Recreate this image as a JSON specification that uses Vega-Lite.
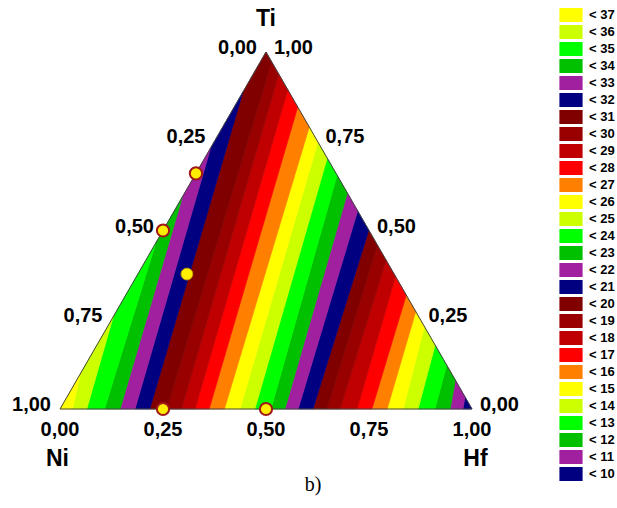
{
  "$schema": "https://vega.github.io/schema/vega-lite/v6.json",
  "width": 412,
  "height": 357,
  "autosize": {"type": "none"},
  "padding": {"left": 60, "top": 52, "right": 145, "bottom": 99},
  "background": "white",
  "config": {"view": {"stroke": null}, "font": "Liberation Sans"},
  "datasets": {
    "bands": [
      {"b": "< 10", "i": 0, "x": 0.978, "y": 0}, {"b": "< 10", "i": 1, "x": 1, "y": 0}, {"b": "< 10", "i": 2, "x": 0.983, "y": 0.034},
      {"b": "< 11", "i": 0, "x": 0.978, "y": 0}, {"b": "< 11", "i": 1, "x": 0.983, "y": 0.034}, {"b": "< 11", "i": 2, "x": 0.9595, "y": 0.081}, {"b": "< 11", "i": 3, "x": 0.947, "y": 0},
      {"b": "< 12", "i": 0, "x": 0.947, "y": 0}, {"b": "< 12", "i": 1, "x": 0.9595, "y": 0.081}, {"b": "< 12", "i": 2, "x": 0.9385, "y": 0.123}, {"b": "< 12", "i": 3, "x": 0.910, "y": 0},
      {"b": "< 13", "i": 0, "x": 0.910, "y": 0}, {"b": "< 13", "i": 1, "x": 0.9385, "y": 0.123}, {"b": "< 13", "i": 2, "x": 0.9105, "y": 0.179}, {"b": "< 13", "i": 3, "x": 0.869, "y": 0},
      {"b": "< 14", "i": 0, "x": 0.869, "y": 0}, {"b": "< 14", "i": 1, "x": 0.9105, "y": 0.179}, {"b": "< 14", "i": 2, "x": 0.8845, "y": 0.231}, {"b": "< 14", "i": 3, "x": 0.833, "y": 0},
      {"b": "< 15", "i": 0, "x": 0.833, "y": 0}, {"b": "< 15", "i": 1, "x": 0.8845, "y": 0.231}, {"b": "< 15", "i": 2, "x": 0.8635, "y": 0.273}, {"b": "< 15", "i": 3, "x": 0.794, "y": 0},
      {"b": "< 16", "i": 0, "x": 0.794, "y": 0}, {"b": "< 16", "i": 1, "x": 0.8635, "y": 0.273}, {"b": "< 16", "i": 2, "x": 0.8405, "y": 0.319}, {"b": "< 16", "i": 3, "x": 0.757, "y": 0},
      {"b": "< 17", "i": 0, "x": 0.757, "y": 0}, {"b": "< 17", "i": 1, "x": 0.8405, "y": 0.319}, {"b": "< 17", "i": 2, "x": 0.8145, "y": 0.371}, {"b": "< 17", "i": 3, "x": 0.721, "y": 0},
      {"b": "< 18", "i": 0, "x": 0.721, "y": 0}, {"b": "< 18", "i": 1, "x": 0.8145, "y": 0.371}, {"b": "< 18", "i": 2, "x": 0.7915, "y": 0.417}, {"b": "< 18", "i": 3, "x": 0.680, "y": 0},
      {"b": "< 19", "i": 0, "x": 0.680, "y": 0}, {"b": "< 19", "i": 1, "x": 0.7915, "y": 0.417}, {"b": "< 19", "i": 2, "x": 0.7705, "y": 0.459}, {"b": "< 19", "i": 3, "x": 0.648, "y": 0},
      {"b": "< 20", "i": 0, "x": 0.648, "y": 0}, {"b": "< 20", "i": 1, "x": 0.7705, "y": 0.459}, {"b": "< 20", "i": 2, "x": 0.7495, "y": 0.501}, {"b": "< 20", "i": 3, "x": 0.614, "y": 0},
      {"b": "< 21", "i": 0, "x": 0.614, "y": 0}, {"b": "< 21", "i": 1, "x": 0.7495, "y": 0.501}, {"b": "< 21", "i": 2, "x": 0.7225, "y": 0.555}, {"b": "< 21", "i": 3, "x": 0.578, "y": 0},
      {"b": "< 22", "i": 0, "x": 0.578, "y": 0}, {"b": "< 22", "i": 1, "x": 0.7225, "y": 0.555}, {"b": "< 22", "i": 2, "x": 0.6975, "y": 0.605}, {"b": "< 22", "i": 3, "x": 0.546, "y": 0},
      {"b": "< 23", "i": 0, "x": 0.546, "y": 0}, {"b": "< 23", "i": 1, "x": 0.6975, "y": 0.605}, {"b": "< 23", "i": 2, "x": 0.6725, "y": 0.655}, {"b": "< 23", "i": 3, "x": 0.512, "y": 0},
      {"b": "< 24", "i": 0, "x": 0.512, "y": 0}, {"b": "< 24", "i": 1, "x": 0.6725, "y": 0.655}, {"b": "< 24", "i": 2, "x": 0.6485, "y": 0.703}, {"b": "< 24", "i": 3, "x": 0.473, "y": 0},
      {"b": "< 25", "i": 0, "x": 0.473, "y": 0}, {"b": "< 25", "i": 1, "x": 0.6485, "y": 0.703}, {"b": "< 25", "i": 2, "x": 0.626, "y": 0.748}, {"b": "< 25", "i": 3, "x": 0.437, "y": 0},
      {"b": "< 26", "i": 0, "x": 0.437, "y": 0}, {"b": "< 26", "i": 1, "x": 0.626, "y": 0.748}, {"b": "< 26", "i": 2, "x": 0.605, "y": 0.790}, {"b": "< 26", "i": 3, "x": 0.399, "y": 0},
      {"b": "< 27", "i": 0, "x": 0.399, "y": 0}, {"b": "< 27", "i": 1, "x": 0.605, "y": 0.790}, {"b": "< 27", "i": 2, "x": 0.577, "y": 0.846}, {"b": "< 27", "i": 3, "x": 0.362, "y": 0},
      {"b": "< 28", "i": 0, "x": 0.362, "y": 0}, {"b": "< 28", "i": 1, "x": 0.577, "y": 0.846}, {"b": "< 28", "i": 2, "x": 0.553, "y": 0.894}, {"b": "< 28", "i": 3, "x": 0.328, "y": 0},
      {"b": "< 29", "i": 0, "x": 0.328, "y": 0}, {"b": "< 29", "i": 1, "x": 0.553, "y": 0.894}, {"b": "< 29", "i": 2, "x": 0.531, "y": 0.938}, {"b": "< 29", "i": 3, "x": 0.295, "y": 0},
      {"b": "< 30", "i": 0, "x": 0.295, "y": 0}, {"b": "< 30", "i": 1, "x": 0.531, "y": 0.938}, {"b": "< 30", "i": 2, "x": 0.514, "y": 0.972}, {"b": "< 30", "i": 3, "x": 0.259, "y": 0},
      {"b": "< 31", "i": 0, "x": 0.259, "y": 0}, {"b": "< 31", "i": 1, "x": 0.514, "y": 0.972}, {"b": "< 31", "i": 2, "x": 0.5, "y": 1}, {"b": "< 31", "i": 3, "x": 0.444, "y": 0.888}, {"b": "< 31", "i": 4, "x": 0.218, "y": 0},
      {"b": "< 32", "i": 0, "x": 0.218, "y": 0}, {"b": "< 32", "i": 1, "x": 0.444, "y": 0.888}, {"b": "< 32", "i": 2, "x": 0.3655, "y": 0.731}, {"b": "< 32", "i": 3, "x": 0.182, "y": 0},
      {"b": "< 33", "i": 0, "x": 0.182, "y": 0}, {"b": "< 33", "i": 1, "x": 0.3655, "y": 0.731}, {"b": "< 33", "i": 2, "x": 0.297, "y": 0.594}, {"b": "< 33", "i": 3, "x": 0.146, "y": 0},
      {"b": "< 34", "i": 0, "x": 0.146, "y": 0}, {"b": "< 34", "i": 1, "x": 0.297, "y": 0.594}, {"b": "< 34", "i": 2, "x": 0.2325, "y": 0.465}, {"b": "< 34", "i": 3, "x": 0.108, "y": 0},
      {"b": "< 35", "i": 0, "x": 0.108, "y": 0}, {"b": "< 35", "i": 1, "x": 0.2325, "y": 0.465}, {"b": "< 35", "i": 2, "x": 0.129, "y": 0.258}, {"b": "< 35", "i": 3, "x": 0.065, "y": 0},
      {"b": "< 36", "i": 0, "x": 0.065, "y": 0}, {"b": "< 36", "i": 1, "x": 0.129, "y": 0.258}, {"b": "< 36", "i": 2, "x": 0.05, "y": 0.10}, {"b": "< 36", "i": 3, "x": 0.030, "y": 0},
      {"b": "< 37", "i": 0, "x": 0.030, "y": 0}, {"b": "< 37", "i": 1, "x": 0.05, "y": 0.10}, {"b": "< 37", "i": 2, "x": 0, "y": 0}
    ],
    "outline": [
      {"i": 0, "x": 0, "y": 0}, {"i": 1, "x": 1, "y": 0}, {"i": 2, "x": 0.5, "y": 1}, {"i": 3, "x": 0, "y": 0}
    ],
    "rings": [
      {"x": 0.25, "y": 0}, {"x": 0.5, "y": 0}, {"x": 0.25, "y": 0.5}, {"x": 0.33, "y": 0.66}
    ],
    "dots": [
      {"x": 0.308, "y": 0.378}
    ],
    "bottomTicks": [
      {"x": 0, "y": 0, "t": "0,00"}, {"x": 0.25, "y": 0, "t": "0,25"}, {"x": 0.5, "y": 0, "t": "0,50"}, {"x": 0.75, "y": 0, "t": "0,75"}, {"x": 1, "y": 0, "t": "1,00"}
    ],
    "leftTicks": [
      {"x": 0, "y": 0, "t": "1,00"}, {"x": 0.125, "y": 0.25, "t": "0,75"}, {"x": 0.25, "y": 0.5, "t": "0,50"}, {"x": 0.375, "y": 0.75, "t": "0,25"}, {"x": 0.5, "y": 1, "t": "0,00"}
    ],
    "rightTicks": [
      {"x": 1, "y": 0, "t": "0,00"}, {"x": 0.875, "y": 0.25, "t": "0,25"}, {"x": 0.75, "y": 0.5, "t": "0,50"}, {"x": 0.625, "y": 0.75, "t": "0,75"}, {"x": 0.5, "y": 1, "t": "1,00"}
    ]
  },
  "encoding": {
    "x": {"field": "x", "type": "quantitative", "scale": {"domain": [0, 1], "nice": false, "zero": false}, "axis": null},
    "y": {"field": "y", "type": "quantitative", "scale": {"domain": [0, 1], "nice": false, "zero": false}, "axis": null}
  },
  "layer": [
    {
      "data": {"name": "bands"},
      "mark": {"type": "line", "filled": true, "interpolate": "linear-closed", "strokeWidth": 0.7, "opacity": 1},
      "encoding": {
        "order": {"field": "i", "type": "quantitative"},
        "color": {
          "field": "b", "type": "nominal",
          "scale": {
            "domain": ["< 37", "< 36", "< 35", "< 34", "< 33", "< 32", "< 31", "< 30", "< 29", "< 28", "< 27", "< 26", "< 25", "< 24", "< 23", "< 22", "< 21", "< 20", "< 19", "< 18", "< 17", "< 16", "< 15", "< 14", "< 13", "< 12", "< 11", "< 10"],
            "range": ["#FFFF00", "#CCFF00", "#00FF00", "#00C000", "#A020A0", "#000080", "#800000", "#990000", "#C00000", "#FF0000", "#FF8000", "#FFFF00", "#CCFF00", "#00FF00", "#00C000", "#A020A0", "#000080", "#800000", "#990000", "#C00000", "#FF0000", "#FF8000", "#FFFF00", "#CCFF00", "#00FF00", "#00C000", "#A020A0", "#000080"]
          },
          "legend": {
            "title": null,
            "orient": "none",
            "direction": "vertical",
            "legendX": 503,
            "legendY": -45,
            "padding": 0,
            "symbolType": "M-1.57,-0.93L1.57,-0.93L1.57,0.93L-1.57,0.93Z",
            "symbolSize": 196,
            "symbolStrokeColor": "#8c8c8c",
            "symbolStrokeWidth": 1.2,
            "symbolOpacity": 1,
            "labelFont": "Liberation Sans",
            "labelFontWeight": "bold",
            "labelFontSize": 13,
            "labelColor": "#000000",
            "labelOffset": 10,
            "rowPadding": -2.35
          }
        },
        "stroke": {
          "field": "b", "type": "nominal",
          "scale": {
            "domain": ["< 37", "< 36", "< 35", "< 34", "< 33", "< 32", "< 31", "< 30", "< 29", "< 28", "< 27", "< 26", "< 25", "< 24", "< 23", "< 22", "< 21", "< 20", "< 19", "< 18", "< 17", "< 16", "< 15", "< 14", "< 13", "< 12", "< 11", "< 10"],
            "range": ["#FFFF00", "#CCFF00", "#00FF00", "#00C000", "#A020A0", "#000080", "#800000", "#990000", "#C00000", "#FF0000", "#FF8000", "#FFFF00", "#CCFF00", "#00FF00", "#00C000", "#A020A0", "#000080", "#800000", "#990000", "#C00000", "#FF0000", "#FF8000", "#FFFF00", "#CCFF00", "#00FF00", "#00C000", "#A020A0", "#000080"]
          },
          "legend": null
        }
      }
    },
    {
      "data": {"name": "outline"},
      "mark": {"type": "line", "stroke": "#444444", "strokeWidth": 1},
      "encoding": {"order": {"field": "i", "type": "quantitative"}}
    },
    {
      "data": {"name": "rings"},
      "mark": {"type": "point", "filled": true, "fill": "#FFEE00", "stroke": "#A01818", "strokeWidth": 2, "size": 150, "opacity": 1},
      "encoding": {}
    },
    {
      "data": {"name": "dots"},
      "mark": {"type": "point", "filled": true, "fill": "#FFEE00", "stroke": "#C8A000", "strokeWidth": 1, "size": 140, "opacity": 1},
      "encoding": {}
    },
    {
      "data": {"name": "bottomTicks"},
      "mark": {"type": "text", "font": "Liberation Sans", "fontWeight": "bold", "fontSize": 20, "align": "center", "baseline": "middle", "dy": 21, "color": "#000000"},
      "encoding": {"text": {"field": "t"}}
    },
    {
      "data": {"name": "leftTicks"},
      "mark": {"type": "text", "font": "Liberation Sans", "fontWeight": "bold", "fontSize": 20, "align": "right", "baseline": "middle", "dx": -9, "dy": -4, "color": "#000000"},
      "encoding": {"text": {"field": "t"}}
    },
    {
      "data": {"name": "rightTicks"},
      "mark": {"type": "text", "font": "Liberation Sans", "fontWeight": "bold", "fontSize": 20, "align": "left", "baseline": "middle", "dx": 8, "dy": -4, "color": "#000000"},
      "encoding": {"text": {"field": "t"}}
    },
    {
      "data": {"values": [{"x": 0.5, "y": 1, "t": "Ti"}]},
      "mark": {"type": "text", "font": "Liberation Sans", "fontWeight": "bold", "fontSize": 23, "align": "center", "baseline": "middle", "dy": -33, "color": "#000000"},
      "encoding": {"text": {"field": "t"}}
    },
    {
      "data": {"values": [{"x": 0, "y": 0, "t": "Ni"}]},
      "mark": {"type": "text", "font": "Liberation Sans", "fontWeight": "bold", "fontSize": 23, "align": "center", "baseline": "middle", "dx": -2.5, "dy": 49.5, "color": "#000000"},
      "encoding": {"text": {"field": "t"}}
    },
    {
      "data": {"values": [{"x": 1, "y": 0, "t": "Hf"}]},
      "mark": {"type": "text", "font": "Liberation Sans", "fontWeight": "bold", "fontSize": 23, "align": "center", "baseline": "middle", "dx": 3.5, "dy": 50, "color": "#000000"},
      "encoding": {"text": {"field": "t"}}
    },
    {
      "data": {"values": [{"x": 0.614, "y": 0, "t": "b)"}]},
      "mark": {"type": "text", "font": "Liberation Serif", "fontSize": 20, "align": "center", "baseline": "middle", "dy": 76, "color": "#000000"},
      "encoding": {"text": {"field": "t"}}
    }
  ]
}
